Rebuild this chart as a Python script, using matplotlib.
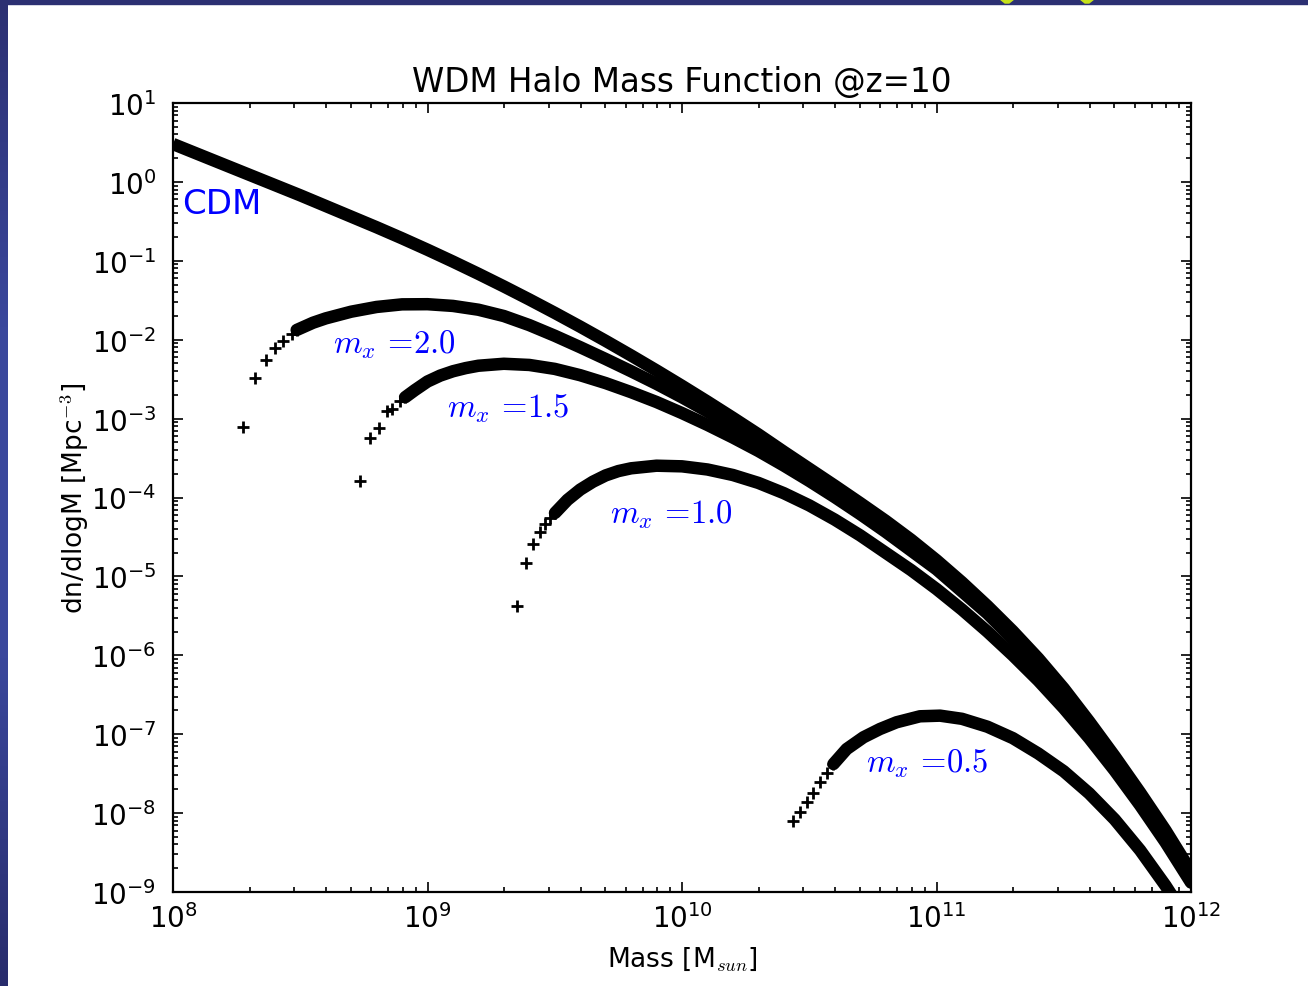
#!/usr/bin/env python3
# WDM halo mass function at z=10 for several thermal relic masses
import numpy as np
import matplotlib
matplotlib.use('Agg')
import matplotlib.pyplot as plt
from matplotlib.ticker import LogLocator, NullFormatter
from matplotlib.patches import Rectangle, Polygon
from matplotlib.colors import LinearSegmentedColormap

plt.rcParams['mathtext.fontset'] = 'cm'
plt.rcParams['axes.unicode_minus'] = False

# log10 of halo mass [Msun] and log10 of dn/dlogM [Mpc^-3]
logm_cdm = [8.0, 8.1, 8.2, 8.3, 8.4, 8.5, 8.6, 8.7, 8.8, 8.9,
            9.0, 9.1, 9.2, 9.3, 9.4, 9.5, 9.6, 9.7, 9.8, 9.9,
            10.0, 10.1, 10.2, 10.3, 10.4, 10.5, 10.6, 10.7, 10.8, 10.9,
            11.0, 11.1, 11.2, 11.3, 11.4, 11.5, 11.6, 11.7, 11.8, 11.9, 12.0]
logn_cdm = [0.48, 0.35, 0.22, 0.09, -0.04, -0.17, -0.305, -0.44, -0.575, -0.715,
            -0.86, -1.01, -1.165, -1.325, -1.49, -1.66, -1.835, -2.015, -2.20, -2.39,
            -2.585, -2.785, -2.99, -3.20, -3.42, -3.635, -3.85, -4.07, -4.295, -4.535,
            -4.795, -5.075, -5.375, -5.695, -6.04, -6.42, -6.84, -7.28, -7.74, -8.22, -8.74]

# m_x = 2.0 keV (first 7 points are the isolated ones near the cutoff)
logm_m20 = [8.274, 8.323, 8.364, 8.401, 8.433, 8.466, 8.486, 8.55, 8.6, 8.7,
            8.8, 8.9, 9.0, 9.1, 9.2, 9.3, 9.4, 9.5, 9.6, 9.7,
            9.8, 9.9, 10.0, 10.1, 10.2, 10.3, 10.4, 10.5, 10.6, 10.7,
            10.8, 11.0, 11.2, 11.4, 11.6, 11.8, 12.0]
logn_m20 = [-3.11, -2.485, -2.254, -2.109, -2.013, -1.928, -1.877, -1.785, -1.73, -1.645,
            -1.585, -1.552, -1.55, -1.572, -1.62, -1.70, -1.815, -1.95, -2.095, -2.245,
            -2.40, -2.56, -2.73, -2.91, -3.10, -3.30, -3.505, -3.715, -3.93, -4.15,
            -4.37, -4.85, -5.42, -6.08, -6.87, -7.77, -8.76]

# m_x = 1.5 keV
logm_m15 = [8.735, 8.774, 8.811, 8.842, 8.859, 8.892, 8.912, 8.95, 9.0, 9.05,
            9.1, 9.15, 9.2, 9.3, 9.4, 9.5, 9.6, 9.7, 9.8, 9.9,
            10.0, 10.1, 10.2, 10.3, 10.4, 10.5, 10.6, 10.7, 10.8, 11.0,
            11.2, 11.4, 11.6, 11.8, 12.0]
logn_m15 = [-3.787, -3.250, -3.123, -2.900, -2.878, -2.773, -2.730, -2.64, -2.53, -2.455,
            -2.40, -2.36, -2.33, -2.305, -2.32, -2.37, -2.45, -2.55, -2.665, -2.79,
            -2.93, -3.08, -3.24, -3.41, -3.595, -3.79, -3.995, -4.21, -4.435, -4.91,
            -5.47, -6.12, -6.90, -7.79, -8.78]

# m_x = 1.0 keV
logm_m10 = [9.353, 9.386, 9.416, 9.442, 9.462, 9.481, 9.501, 9.55, 9.6, 9.65,
            9.7, 9.75, 9.8, 9.9, 10.0, 10.1, 10.2, 10.3, 10.4, 10.5,
            10.6, 10.7, 10.8, 10.9, 11.0, 11.1, 11.2, 11.3, 11.4, 11.5,
            11.6, 11.7, 11.8, 11.9, 12.0]
logn_m10 = [-5.371, -4.834, -4.589, -4.433, -4.336, -4.264, -4.196, -4.03, -3.90, -3.80,
            -3.72, -3.665, -3.63, -3.597, -3.605, -3.645, -3.715, -3.815, -3.945, -4.10,
            -4.28, -4.48, -4.70, -4.92, -5.16, -5.42, -5.70, -6.00, -6.32, -6.67,
            -7.05, -7.46, -7.90, -8.37, -8.88]

# m_x = 0.5 keV
logm_m05 = [10.437, 10.463, 10.490, 10.516, 10.542, 10.568, 10.595, 10.647, 10.713, 10.778,
            10.843, 10.935, 11.014, 11.1, 11.2, 11.3, 11.4, 11.5, 11.6, 11.7,
            11.8, 11.9, 12.0]
logn_m05 = [-8.098, -7.98, -7.864, -7.74, -7.61, -7.49, -7.378, -7.188, -7.039, -6.934,
            -6.849, -6.773, -6.765, -6.805, -6.905, -7.05, -7.245, -7.47, -7.75, -8.08,
            -8.47, -8.92, -9.42]

# number of leading points that show up as separate markers
nsparse = 7

wdm = [('2.0', logm_m20, logn_m20),
       ('1.5', logm_m15, logn_m15),
       ('1.0', logm_m10, logn_m10),
       ('0.5', logm_m05, logn_m05)]

# label anchors (mass, dn/dlogM)
label_pos = {'CDM': (1.09e8, 0.54),
             '2.0': (4.25e8, 9.0e-3),
             '1.5': (1.19e9, 1.40e-3),
             '1.0': (5.2e9, 6.2e-5),
             '0.5': (5.28e10, 4.4e-8)}

fig = plt.figure(figsize=(13.08, 9.87), dpi=100)
ax = fig.add_axes([173/1308, 1 - 893/987, (1191 - 173)/1308, (893 - 104)/987])

band_lw = 9.0
ax.plot(10**np.array(logm_cdm), 10**np.array(logn_cdm), '-', color='k',
        lw=band_lw, solid_capstyle='butt', solid_joinstyle='round')
for name, lm, ln in wdm:
    m = 10**np.array(lm)
    n = 10**np.array(ln)
    k = nsparse
    ax.plot(m[k - 1:], n[k - 1:], '-', color='k', lw=band_lw,
            solid_capstyle='round', solid_joinstyle='round')
    ax.plot(m[:k], n[:k], '+', color='k', ms=8, mew=2.0)

ax.text(*label_pos['CDM'], 'CDM', color='b', fontsize=24.5, ha='left', va='center')
for name in ['2.0', '1.5', '1.0', '0.5']:
    ax.text(*label_pos[name], r'$m_x\ \!=\!%s$' % name, color='b', fontsize=23.5,
            ha='left', va='center')

ax.set_xscale('log')
ax.set_yscale('log')
ax.set_xlim(1e8, 1e12)
ax.set_ylim(1e-9, 1e1)
ax.set_xticks(10.0**np.arange(8, 13))
ax.set_yticks(10.0**np.arange(-9, 2))
for axis in (ax.xaxis, ax.yaxis):
    axis.set_minor_locator(LogLocator(base=10, subs=np.arange(2, 10), numticks=20))
    axis.set_minor_formatter(NullFormatter())
ax.set_xlim(1e8, 1e12)
ax.set_ylim(1e-9, 1e1)
ax.tick_params(which='both', direction='in', top=True, right=True, width=1.2)
ax.tick_params(which='major', length=7, labelsize=20, pad=8)
ax.tick_params(which='minor', length=3.5)
ax.tick_params(axis='y', which='major', pad=12)
for sp in ax.spines.values():
    sp.set_linewidth(1.6)

ax.set_title('WDM Halo Mass Function @z=10', fontsize=23.5, pad=9)
ax.set_xlabel(r'Mass [M$_{sun}$]', fontsize=19, labelpad=8)
ax.set_ylabel(r'dn/dlogM [Mpc$^{-3}$]', fontsize=19, labelpad=0)

# slide frame around the plot: shaded strip on the left, plain bar on top
frame = LinearSegmentedColormap.from_list('frame', ['#2c3072', '#3a479c', '#3a479c', '#282c6c'])
strip = fig.add_axes([0, 0, 8/1308, 1])
strip.imshow(np.linspace(0, 1, 256)[:, None], cmap=frame, aspect='auto')
strip.set_axis_off()
fig.patches.append(Rectangle((0, 1 - 5/987), 1, 5/987, transform=fig.transFigure,
                             color='#2c3072', zorder=0))
for x0 in (1000, 1080):
    fig.patches.append(Polygon([((x0)/1308, 1), ((x0 + 14)/1308, 1),
                                ((x0 + 9)/1308, 1 - 4/987), ((x0 + 5)/1308, 1 - 4/987)],
                               closed=True, transform=fig.transFigure,
                               color='#c6e21a', zorder=1))

fig.savefig('out.png', dpi=100)
